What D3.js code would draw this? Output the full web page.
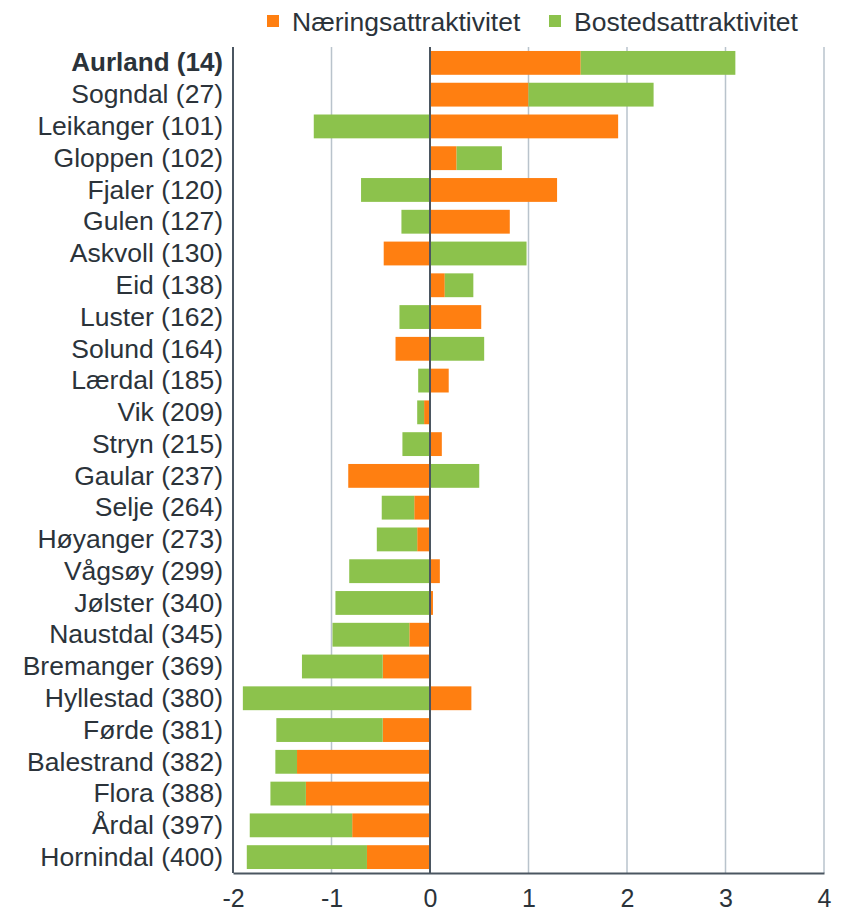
<!DOCTYPE html>
<html>
<head>
<meta charset="utf-8">
<script src="https://cdn.jsdelivr.net/npm/d3@7"></script>
<style>
  body { margin: 0; background: #fff; }
  svg { font-family: "Liberation Sans", Arial, sans-serif; }
</style>
</head>
<body>
<div id="chart"></div>
<script>
// kommuner, rangering i parentes
var kommuner = ["Aurland (14)", "Sogndal (27)", "Leikanger (101)", "Gloppen (102)", "Fjaler (120)",
  "Gulen (127)", "Askvoll (130)", "Eid (138)", "Luster (162)", "Solund (164)", "Lærdal (185)",
  "Vik (209)", "Stryn (215)", "Gaular (237)", "Selje (264)", "Høyanger (273)", "Vågsøy (299)",
  "Jølster (340)", "Naustdal (345)", "Bremanger (369)", "Hyllestad (380)", "Førde (381)",
  "Balestrand (382)", "Flora (388)", "Årdal (397)", "Hornindal (400)"];

var naering = [1.53, 1.00, 1.91, 0.27, 1.29, 0.81, -0.47, 0.15, 0.52, -0.35, 0.19,
  -0.06, 0.12, -0.83, -0.16, -0.13, 0.10, 0.03, -0.21, -0.48, 0.42, -0.48,
  -1.35, -1.26, -0.79, -0.64];

var bosted = [1.57, 1.27, -1.18, 0.46, -0.70, -0.29, 0.98, 0.29, -0.31, 0.55, -0.12,
  -0.07, -0.28, 0.50, -0.33, -0.41, -0.82, -0.96, -0.78, -0.82, -1.90, -1.08,
  -0.22, -0.36, -1.04, -1.22];

var xTicks = [-2, -1, 0, 1, 2, 3, 4];
var seriesNames = ["Næringsattraktivitet", "Bostedsattraktivitet"];
var colors = ["#ff7f11", "#8cc24c"];

var width = 844, height = 912;
var margin = {top: 47, right: 20, bottom: 39, left: 233};
var textColor = "#2b333a";

var svg = d3.select("#chart").append("svg")
  .attr("width", width)
  .attr("height", height);

var rows = kommuner.map(function (k, i) {
  return {name: k, naering: naering[i], bosted: bosted[i]};
});

var stack = d3.stack()
  .keys(["naering", "bosted"])
  .offset(d3.stackOffsetDiverging);
var series = stack(rows);

var x = d3.scaleLinear().domain([-2, 4]).range([margin.left, 824]);
var y = d3.scaleBand().domain(kommuner)
  .range([margin.top, height - margin.bottom])
  .paddingInner(0.25).paddingOuter(0.125);

// rutenett
svg.append("g")
  .selectAll("line")
  .data(xTicks.filter(function (d) { return d != -2 && d != 0; }))
  .enter()
  .append("line")
  .attr("x1", d => x(d)).attr("x2", d => x(d))
  .attr("y1", margin.top).attr("y2", height - margin.bottom)
  .attr("stroke", "#b9c3cc")
  .attr("stroke-width", 1.5);

// stolper
svg.append("g")
  .selectAll("g")
  .data(series)
  .enter()
  .append("g")
  .attr("fill", (d, i) => colors[i])
  .selectAll("rect")
  .data(d => d)
  .enter()
  .append("rect")
  .attr("x", d => x(Math.min(d[0], d[1])))
  .attr("width", d => Math.abs(x(d[1]) - x(d[0])))
  .attr("y", d => y(d.data.name))
  .attr("height", y.bandwidth());

// null-linje og akser
svg.append("line")
  .attr("x1", x(0)).attr("x2", x(0))
  .attr("y1", margin.top).attr("y2", height - margin.bottom)
  .attr("stroke", "#4b5661").attr("stroke-width", 2);

svg.append("line")
  .attr("x1", x(-2)).attr("x2", x(-2))
  .attr("y1", margin.top).attr("y2", height - margin.bottom)
  .attr("stroke", "#4b5661").attr("stroke-width", 2);

var xAxis = svg.append("g")
  .attr("transform", "translate(0," + (height - margin.bottom) + ")")
  .call(d3.axisBottom(x).tickValues(xTicks).tickSize(0).tickPadding(16)
    .tickFormat(d => d < 0 ? "-" + Math.abs(d) : d));
xAxis.select(".domain").attr("stroke", "#4b5661").attr("stroke-width", 2);
xAxis.selectAll("text")
  .attr("font-size", 25)
  .attr("fill", textColor)
  .attr("font-family", "Liberation Sans, Arial, sans-serif");

// kommunenavn
svg.append("g")
  .selectAll("text")
  .data(kommuner)
  .enter()
  .append("text")
  .attr("x", 223)
  .attr("y", d => y(d) + y.bandwidth() / 2)
  .attr("dy", "0.33em")
  .attr("text-anchor", "end")
  .attr("font-size", (d, i) => i == 0 ? 26 : 26.5)
  .attr("font-weight", (d, i) => i == 0 ? "bold" : "normal")
  .attr("fill", textColor)
  .text(d => d);

// forklaring
var legendX = [267, 549];
var legend = svg.append("g")
  .selectAll("g")
  .data(seriesNames)
  .enter()
  .append("g")
  .attr("transform", (d, i) => "translate(" + legendX[i] + ",0)");

legend.append("rect")
  .attr("x", 0).attr("y", 15)
  .attr("width", 12).attr("height", 12)
  .attr("fill", (d, i) => colors[i]);

legend.append("text")
  .attr("x", 25).attr("y", 31)
  .attr("font-size", 26.5)
  .attr("fill", textColor)
  .text(d => d);
</script>
</body>
</html>
